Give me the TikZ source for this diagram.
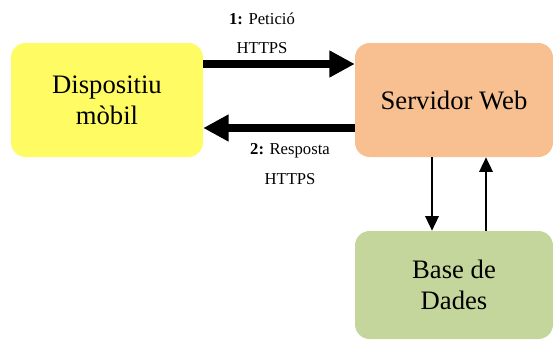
\documentclass[tikz,border=0pt]{standalone}
\usepackage{fontspec}
\setmainfont{Liberation Serif}
\usetikzlibrary{arrows.meta}
\definecolor{groc}{HTML}{FFFC63}
\definecolor{taronja}{HTML}{F8C090}
\definecolor{verd}{HTML}{C4D69C}
\tikzset{
  caixa/.style={rounded corners=11pt, align=center, inner sep=0pt,
    font=\fontsize{20}{23}\selectfont},
  etiqueta/.style={align=center, font=\fontsize{12.5}{22}\selectfont},
  gruixuda/.style={line width=6pt, -{Triangle[length=19pt,width=19pt]}},
  prima/.style={line width=1.8pt, -{Triangle[length=11pt,width=10pt]}}
}
\begin{document}
\begin{tikzpicture}[x=0.75pt,y=-0.75pt]
\useasboundingbox (0,0) rectangle (553,339);
\node[caixa, fill=groc, minimum width=144pt, minimum height=85.5pt] at (107,100) (disp) {Dispositiu\\m\`obil};
\node[caixa, fill=taronja, minimum width=148.5pt, minimum height=85.5pt] at (454,100) (serv) {Servidor Web};
\node[caixa, fill=verd, minimum width=148.5pt, minimum height=81pt] at (454,285) (bd) {Base de\\Dades};
\node[etiqueta] at (262,33) (pet) {\textbf{1:} Petici\'o\\HTTPS};
\node[etiqueta] at (290,164) (resp) {\textbf{2:} Resposta\\HTTPS};
  \draw[gruixuda] ([yshift=27pt]disp.east) -- ([yshift=27pt]serv.west);
  \draw[gruixuda] ([yshift=-21pt]serv.west) -- ([yshift=-21pt]disp.east);
  \draw[prima] ([xshift=-16.5pt]serv.south) -- ([xshift=-16.5pt]serv.south |- bd.north);
  \draw[prima] ([xshift=24pt]bd.north) -- ([xshift=24pt]bd.north |- serv.south);
\end{tikzpicture}
\end{document}
